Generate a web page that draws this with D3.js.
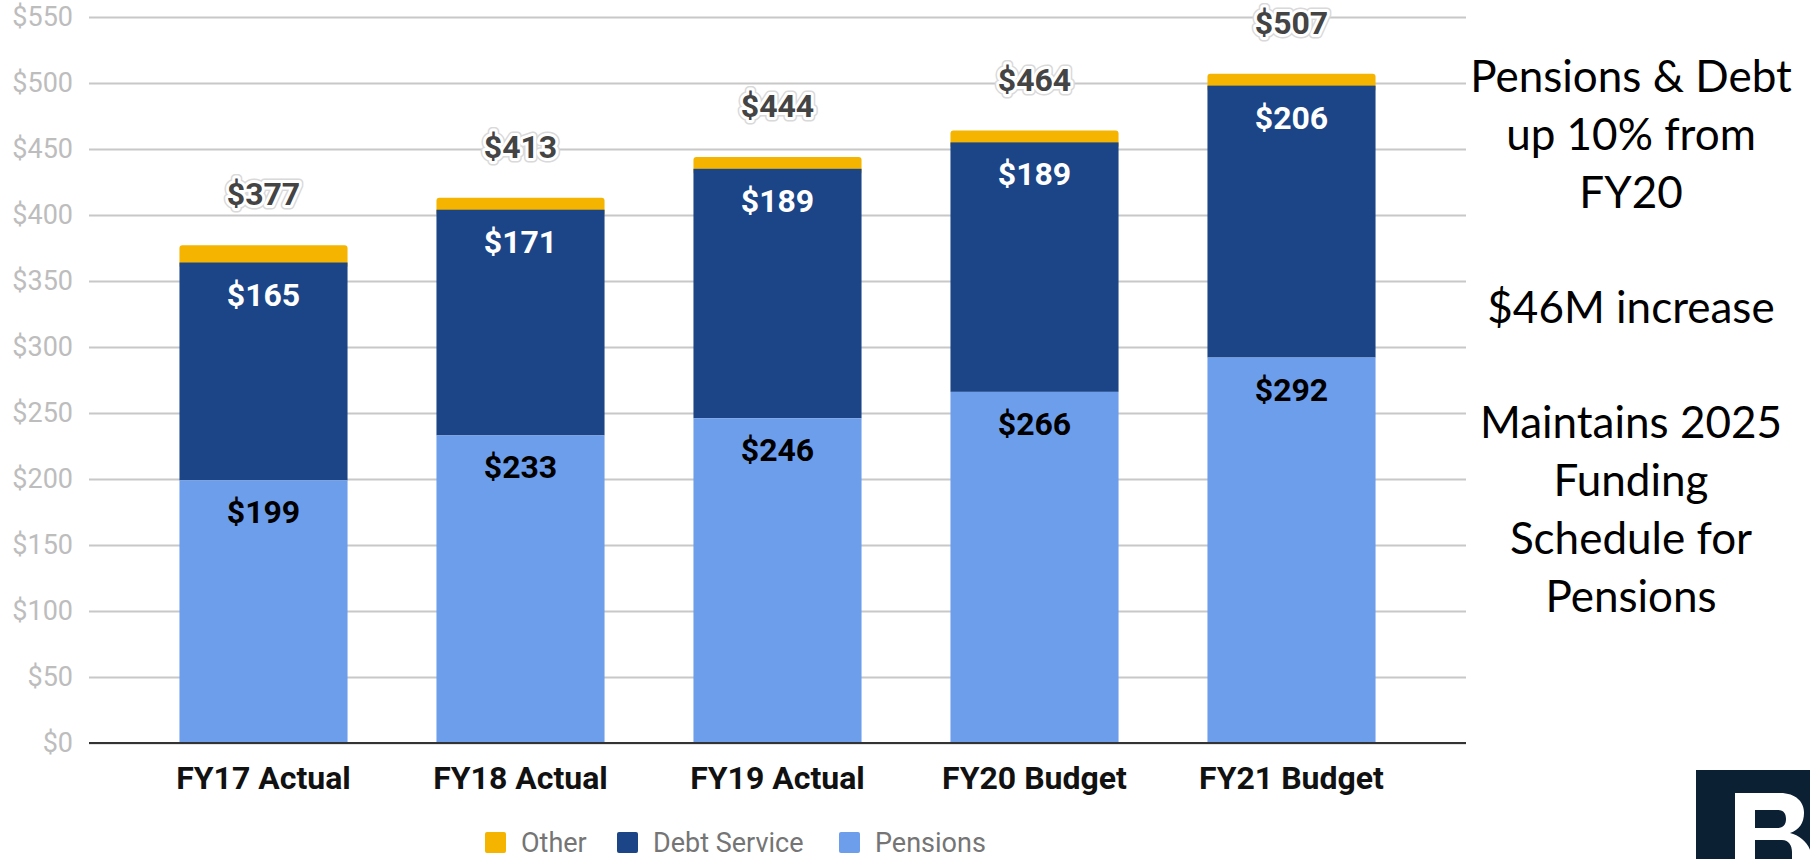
<!DOCTYPE html>
<html>
<head>
<meta charset="utf-8">
<script src="https://cdn.jsdelivr.net/npm/d3@7"></script>
<style>
  body { margin: 0; background: #fff; }
  svg { display: block; font-family: Roboto, sans-serif; }
</style>
</head>
<body>
<div id="chart"></div>
<script>
const categories = ["FY17 Actual", "FY18 Actual", "FY19 Actual", "FY20 Budget", "FY21 Budget"];
const pensions = [199, 233, 246, 266, 292];
const debtService = [165, 171, 189, 189, 206];
const other = [13, 9, 9, 9, 9];
const totals = [377, 413, 444, 464, 507];
const yTicks = [0, 50, 100, 150, 200, 250, 300, 350, 400, 450, 500, 550];
const seriesNames = ["Pensions", "Debt Service", "Other"];
const notes = [
    ["Pensions & Debt", "up 10% from", "FY20"],
    ["$46M increase"],
    ["Maintains 2025", "Funding", "Schedule for", "Pensions"]
];

const W = 1810, H = 859;
const plotLeft = 89, plotRight = 1466, plotTop = 17, plotBottom = 743;

const colors = { "Pensions": "#6d9eeb", "Debt Service": "#1c4587", "Other": "#f4b400" };

const rows = categories.map((c, i) => ({
    cat: c, "Pensions": pensions[i], "Debt Service": debtService[i], "Other": other[i], total: totals[i]
}));

const svg = d3.select("#chart")
    .append("svg")
    .attr("width", W)
    .attr("height", H);

const x = d3.scaleBand()
    .domain(categories)
    .range([plotLeft + 46, plotRight - 46])
    .paddingInner(0.346)
    .paddingOuter(0.173);

const y = d3.scaleLinear()
    .domain([0, 550])
    .range([plotBottom, plotTop]);

// gridlines + y labels
const yAxis = svg.append("g")
    .attr("transform", `translate(${plotLeft},0)`)
    .call(d3.axisLeft(y)
        .tickValues(yTicks)
        .tickSize(-(plotRight - plotLeft))
        .tickPadding(16)
        .tickFormat(d => "$" + d));
yAxis.select(".domain").remove();
yAxis.selectAll(".tick line")
    .attr("stroke", "#c8c8c8")
    .attr("stroke-width", 2);
yAxis.selectAll(".tick text")
    .attr("fill", "#bdbdbd")
    .style("font-size", "27px")
    .style("font-family", "Roboto, sans-serif");

const stack = d3.stack().keys(seriesNames)(rows);

// draw Other first so its rounded bottom gets covered
const layers = svg.append("g");
stack.slice().reverse().forEach(layer => {
    const key = layer.key;
    layers.append("g")
        .selectAll("rect")
        .data(layer)
        .enter()
        .append("rect")
        .attr("x", d => x(d.data.cat))
        .attr("width", x.bandwidth())
        .attr("y", d => y(d[1]))
        .attr("height", d => y(d[0]) - y(d[1]) + (key === "Other" ? 6 : 0))
        .attr("rx", key === "Other" ? 3 : 0)
        .attr("fill", colors[key]);
});

// zero line
svg.append("line")
    .attr("x1", plotLeft).attr("x2", plotRight)
    .attr("y1", y(0)).attr("y2", y(0))
    .attr("stroke", "#333")
    .attr("stroke-width", 2);

// segment labels
const segLabels = [
    { layer: stack[0], fill: "#000" },
    { layer: stack[1], fill: "#fff" }
];
segLabels.forEach(s => {
    svg.append("g")
        .selectAll("text")
        .data(s.layer)
        .enter()
        .append("text")
        .attr("x", d => x(d.data.cat) + x.bandwidth() / 2)
        .attr("y", d => y(d[1]) + 43)
        .attr("text-anchor", "middle")
        .attr("fill", s.fill)
        .style("font-size", "32px")
        .style("font-weight", "bold")
        .text(d => "$" + (d[1] - d[0]));
});

// total labels with halo
const totalG = svg.append("g");
[{ stroke: "#d9d9d9", w: 9 }, { stroke: "#fff", w: 6 }, { stroke: "none", w: 0 }].forEach(h => {
    totalG.append("g")
        .selectAll("text")
        .data(rows)
        .enter()
        .append("text")
        .attr("x", d => x(d.cat) + x.bandwidth() / 2)
        .attr("y", d => y(d.total) - 40)
        .attr("text-anchor", "middle")
        .attr("fill", "#444")
        .attr("stroke", h.stroke)
        .attr("stroke-width", h.w)
        .attr("stroke-linejoin", "round")
        .style("font-size", "32px")
        .style("font-weight", "bold")
        .text(d => "$" + d.total);
});

// x labels
svg.append("g")
    .selectAll("text")
    .data(categories)
    .enter()
    .append("text")
    .attr("x", d => x(d) + x.bandwidth() / 2)
    .attr("y", 789)
    .attr("text-anchor", "middle")
    .attr("fill", "#111")
    .style("font-size", "32px")
    .style("font-weight", "bold")
    .text(d => d);

// legend
const legendItems = ["Other", "Debt Service", "Pensions"];
const legendX = [485, 617, 839];
const legend = svg.append("g");
legendItems.forEach((k, i) => {
    legend.append("rect")
        .attr("x", legendX[i])
        .attr("y", 832)
        .attr("width", 21)
        .attr("height", 21)
        .attr("rx", 2)
        .attr("fill", colors[k]);
    legend.append("text")
        .attr("x", legendX[i] + 36)
        .attr("y", 852)
        .attr("fill", "#757575")
        .style("font-size", "27px")
        .text(k);
});

// side notes
const noteStarts = [92, 323, 438];
const noteG = svg.append("g")
    .style("font-family", "Lato, 'Open Sans', sans-serif")
    .style("font-size", "44px")
    .attr("fill", "#000")
    .attr("text-anchor", "middle");
notes.forEach((lines, i) => {
    lines.forEach((t, j) => {
        noteG.append("text")
            .attr("x", 1631)
            .attr("y", noteStarts[i] + j * 58)
            .text(t);
    });
});

// logo (cropped at the page corner, like the slide)
svg.append("rect")
    .attr("x", 1696).attr("y", 770)
    .attr("width", 114).attr("height", 89)
    .attr("fill", "#0b2033");
svg.append("path")
    .attr("fill", "#fff")
    .attr("fill-rule", "evenodd")
    .attr("d",
        "M1735,793 H1780 C1796,793 1804,802 1804,813 C1804,823 1799,830 1790,833 " +
        "C1802,836 1812,846 1812,860 V880 H1735 Z " +
        "M1755,810 H1778 C1784,810 1786,814 1786,819 C1786,825 1783,828 1777,828 H1755 Z " +
        "M1755,840 H1782 C1789,840 1792,846 1792,852 V880 H1755 Z");
</script>
</body>
</html>
